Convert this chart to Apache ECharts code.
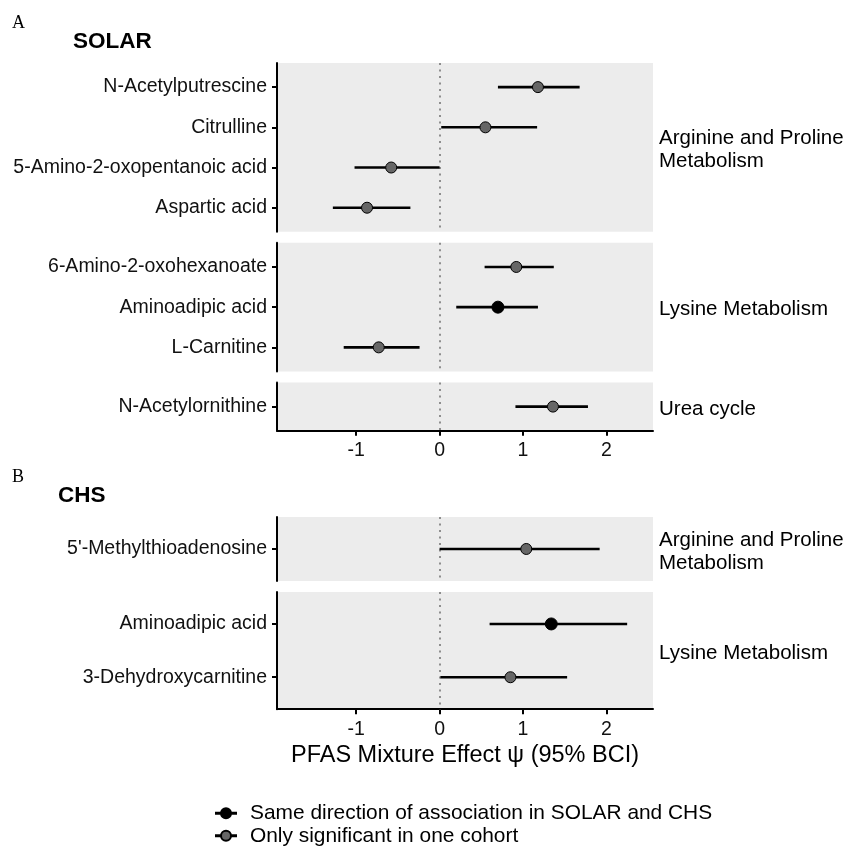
<!DOCTYPE html>
<html>
<head>
<meta charset="utf-8">
<title>PFAS mixture effect by metabolite</title>
<script src="https://cdn.jsdelivr.net/npm/echarts@6/dist/echarts.min.js"></script>
<style>
  html, body { margin: 0; padding: 0; background: #fff; }
  #chart { width: 849px; height: 848px; }
</style>
</head>
<body>
<div id="chart"></div>
<script>
// ---- data ----
var legendSame = "Same direction of association in SOLAR and CHS"
var legendOne = "Only significant in one cohort"

var solarNames = [
    "N-Acetylputrescine", "Citrulline", "5-Amino-2-oxopentanoic acid", "Aspartic acid",
    "6-Amino-2-oxohexanoate", "Aminoadipic acid", "L-Carnitine",
    "N-Acetylornithine"
]
var solarPathway = [
    "Arginine and Proline\nMetabolism", "Arginine and Proline\nMetabolism",
    "Arginine and Proline\nMetabolism", "Arginine and Proline\nMetabolism",
    "Lysine Metabolism", "Lysine Metabolism", "Lysine Metabolism",
    "Urea cycle"
]
var solarPsi   = [1.18, 0.55, -0.58, -0.87, 0.92, 0.70, -0.73, 1.36]
var solarLower = [0.70, 0.02, -1.02, -1.28, 0.54, 0.20, -1.15, 0.91]
var solarUpper = [1.68, 1.17, 0.00, -0.35, 1.37, 1.18, -0.24, 1.78]
var solarSame  = [false, false, false, false, false, true, false, false]

var chsNames = ["5'-Methylthioadenosine", "Aminoadipic acid", "3-Dehydroxycarnitine"]
var chsPathway = ["Arginine and Proline\nMetabolism", "Lysine Metabolism", "Lysine Metabolism"]
var chsPsi   = [1.04, 1.34, 0.85]
var chsLower = [0.00, 0.60, 0.01]
var chsUpper = [1.92, 2.25, 1.53]
var chsSame  = [false, true, false]

var xTicks = [-1, 0, 1, 2]
var xMin = -1.95
var xMax = 2.56

// ---- layout ----
var FONT = "'Liberation Sans', Arial, Helvetica, sans-serif"
var gridLeft = 277
var gridWidth = 376
var facetGap = 11
var stripX = 659

var panels = [
    {letter: "A", title: "SOLAR", titleX: 73, letterY: 24, titleY: 42.5, top: 63, unit: 40.2,
     names: solarNames, pathway: solarPathway, psi: solarPsi, lower: solarLower, upper: solarUpper, same: solarSame},
    {letter: "B", title: "CHS", titleX: 58, letterY: 478, titleY: 497, top: 517, unit: 53.3,
     names: chsNames, pathway: chsPathway, psi: chsPsi, lower: chsLower, upper: chsUpper, same: chsSame, xName: "PFAS Mixture Effect \u03c8 (95% BCI)"}
]

function splitFacets(p) {
    var facets = []
    p.names.forEach(function(n, i) {
        var last = facets[facets.length - 1]
        if (!last || last.label !== p.pathway[i]) {
            last = {label: p.pathway[i], rows: []}
            facets.push(last)
        }
        last.rows.push({name: n, psi: p.psi[i], lo: p.lower[i], hi: p.upper[i], same: p.same[i]})
    })
    return facets
}

function errorBar(params, api) {
    var a = api.coord([api.value(1), api.value(0)])
    var b = api.coord([api.value(2), api.value(0)])
    return {
        type: "line",
        shape: {x1: a[0], y1: a[1], x2: b[0], y2: b[1]},
        style: {stroke: "#000", lineWidth: 2.6}
    }
}

var grids = [], xAxes = [], yAxes = [], series = [], graphics = []

panels.forEach(function(p) {
    graphics.push({type: "text", left: 12, top: p.letterY - 10,
        style: {text: p.letter, font: "18px 'Liberation Serif', 'Times New Roman', serif", fill: "#000"}})
    graphics.push({type: "text", left: p.titleX, top: p.titleY - 12.5,
        style: {text: p.title, font: "bold 22.5px " + FONT, fill: "#000"}})

    var facets = splitFacets(p)
    var top = p.top
    facets.forEach(function(f, fi) {
        var n = f.rows.length
        var h = (n + 0.2) * p.unit
        var idx = grids.length
        var isBottom = fi === facets.length - 1
        var ticks = f.rows.map(function(r, i) { return i + 1 })
        var labels = f.rows.map(function(r) { return r.name })

        grids.push({left: gridLeft, top: top, width: gridWidth, height: h,
            show: true, backgroundColor: "#ececec", borderWidth: 0, outerBoundsMode: "none"})

        xAxes.push({
            gridIndex: idx, type: "value", min: xMin, max: xMax,
            splitLine: {show: false},
            axisLine: {show: isBottom, onZero: false, lineStyle: {color: "#000", width: 2}},
            axisTick: {show: isBottom, customValues: xTicks, length: 5, lineStyle: {color: "#000", width: 2}},
            axisLabel: {show: isBottom, customValues: xTicks, margin: 10, fontSize: 19.5, color: "#111", fontFamily: FONT},
            name: isBottom && p.xName ? p.xName : "",
            nameLocation: "middle", nameGap: 34,
            nameTextStyle: {fontSize: 23.5, color: "#000", fontFamily: FONT}
        })

        yAxes.push({
            gridIndex: idx, type: "value", inverse: true, min: 0.4, max: n + 0.6,
            splitLine: {show: false},
            axisLine: {show: true, onZero: false, lineStyle: {color: "#000", width: 2}},
            axisTick: {show: true, customValues: ticks, length: 5, lineStyle: {color: "#000", width: 2}},
            axisLabel: {show: true, customValues: ticks, margin: 10, fontSize: 19.5, color: "#111", fontFamily: FONT,
                formatter: function(v) { return labels[Math.round(v) - 1] || "" }}
        })

        series.push({
            type: "custom", xAxisIndex: idx, yAxisIndex: idx, renderItem: errorBar,
            encode: {x: [1, 2], y: 0}, z: 2, silent: true,
            data: f.rows.map(function(r, i) { return [i + 1, r.lo, r.hi] }),
            markLine: {
                silent: true, symbol: ["none", "none"], label: {show: false},
                lineStyle: {type: [2, 4.5], color: "#777", width: 1.6},
                data: [{xAxis: 0}], z: 1
            }
        })

        ;[true, false].forEach(function(same) {
            var pts = []
            f.rows.forEach(function(r, i) { if (r.same === same) pts.push([r.psi, i + 1]) })
            series.push({
                type: "scatter", name: same ? legendSame : legendOne,
                xAxisIndex: idx, yAxisIndex: idx, z: 3,
                symbolSize: same ? 12 : 11,
                itemStyle: {color: same ? "#000" : "#666", borderColor: "#000", borderWidth: 1, opacity: 1},
                data: pts
            })
        })

        graphics.push({type: "text", left: stripX, top: top + h / 2 - (f.label.indexOf("\n") >= 0 ? 23 : 11.5) + 2.5,
            style: {text: f.label, font: "20.5px " + FONT, fill: "#000", lineHeight: 23}})

        top += h + facetGap
    })
})

var keyIcon = "path://M0,5.4h5v1.2H0z M15,5.4h5v1.2h-5z M15,6a5,5 0 1,1 -10,0a5,5 0 1,1 10,0z"

var chart = echarts.init(document.getElementById("chart"))
chart.setOption({
    animation: false,
    backgroundColor: "#fff",
    grid: grids,
    xAxis: xAxes,
    yAxis: yAxes,
    series: series,
    graphic: graphics,
    legend: {
        orient: "vertical", left: 215, top: 802, padding: 0, itemGap: 0,
        itemWidth: 20, itemHeight: 10,
        textStyle: {fontSize: 20.9, color: "#000", fontFamily: FONT, lineHeight: 22.5, padding: [0, 0, 0, 9]},
        data: [{name: legendSame, icon: keyIcon}, {name: legendOne, icon: keyIcon}]
    }
})
</script>
</body>
</html>
